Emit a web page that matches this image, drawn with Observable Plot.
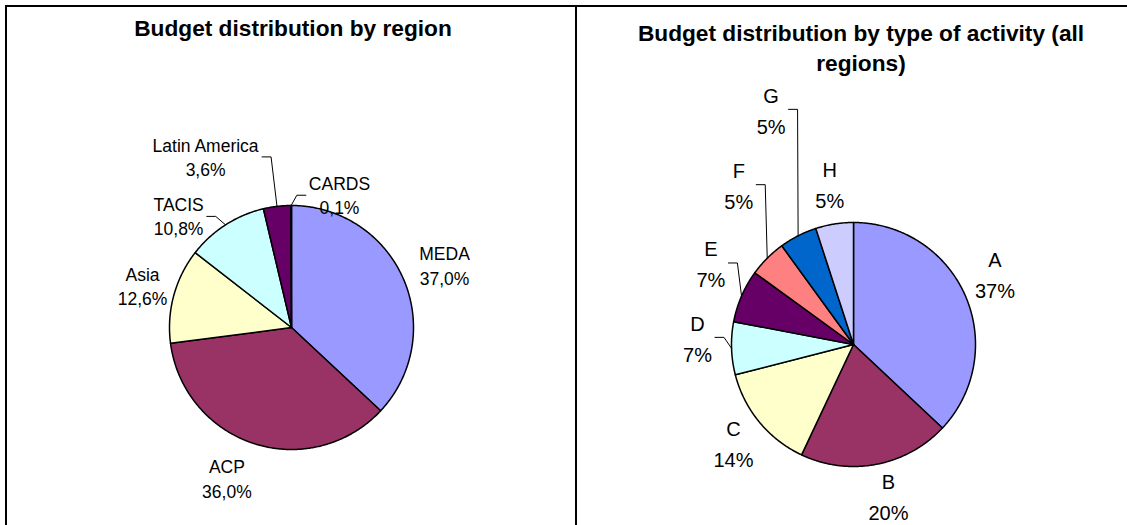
<!DOCTYPE html>
<html><head><meta charset="utf-8">
<script src="https://cdn.jsdelivr.net/npm/d3@7"></script>
<script src="https://cdn.jsdelivr.net/npm/@observablehq/plot@0.6"></script>
<style>
html,body{margin:0;padding:0;background:#fff;}
body{width:1127px;height:525px;overflow:hidden;position:relative;font-family:"Liberation Sans",Arial,sans-serif;}
.panel{position:absolute;top:5px;height:600px;border-top:2px solid #000;}
#p1{left:5px;width:568px;border-left:2px solid #000;border-right:2px solid #000;}
#p2{left:577px;width:568px;border-right:2px solid #000;}
.title{position:absolute;font-weight:bold;font-size:22.7px;line-height:30px;text-align:center;color:#000;}
#t1{left:0;width:572px;top:6px;}
#t2{left:44px;width:480px;top:11px;}
.chart{position:absolute;left:0;top:0;}
</style></head>
<body>
<div class="panel" id="p1"><div class="chart" id="c1"></div><div class="title" id="t1"></div></div>
<div class="panel" id="p2"><div class="chart" id="c2"></div><div class="title" id="t2"></div></div>
<script>
// ---- data ----
const regionNames = ["MEDA", "ACP", "Asia", "TACIS", "Latin America", "CARDS"];
const regionShares = [37.0, 36.0, 12.6, 10.8, 3.6, 0.1];
const activityNames = ["A", "B", "C", "D", "E", "F", "G", "H"];
const activityShares = [37, 20, 14, 7, 7, 5, 5, 5];
const palette = ["#9999FF", "#993366", "#FFFFCC", "#CCFFFF", "#660066", "#FF8080", "#0066CC", "#CCCCFF"];
const titleRegion = "Budget distribution by region";
const titleActivity = "Budget distribution by type of activity (all regions)";

// ---- label layout (angle clockwise from 12 o'clock, distance in radii) ----
const regionLabelLayout = [
  {angle: 67.7, dist: 1.356, leader: false},
  {angle: 203.3, dist: 1.339, leader: false},
  {angle: 285.9, dist: 1.27, leader: false},
  {angle: 314.8, dist: 1.304, leader: true},
  {angle: 333.4, dist: 1.573, leader: true},
  {angle: 19.8, dist: 1.161, leader: true}
];
const activityLabelLayout = [
  {angle: 64.2, dist: 1.288, leader: false},
  {angle: 167.2, dist: 1.294, leader: false},
  {angle: 229.9, dist: 1.286, leader: false},
  {angle: 271.7, dist: 1.279, leader: true},
  {angle: 299.0, dist: 1.336, leader: true},
  {angle: 323.9, dist: 1.596, leader: true},
  {angle: 340.5, dist: 2.023, leader: true},
  {angle: 351.5, dist: 1.315, leader: false}
];

document.getElementById("t1").textContent = titleRegion;
document.getElementById("t2").textContent = titleActivity;

const FONT = '"Liberation Sans", Arial, sans-serif';
const ctx = document.createElement("canvas").getContext("2d");

function drawPie({names, shares, layout, fmt, fontSize, lineHeight, labelDy, cx, cy, r, width, height}) {
  const arcs = d3.pie().sort(null).value(d => d)(shares);
  const slices = arcs.map((a, i) => {
    const n = Math.max(2, Math.ceil((a.endAngle - a.startAngle) / (Math.PI / 360)));
    const ring = [[0, 0]];
    for (let k = 0; k <= n; k++) {
      const t = a.startAngle + (a.endAngle - a.startAngle) * k / n;
      ring.push([Math.sin(t), -Math.cos(t)]);
    }
    ring.push([0, 0]);
    return {type: "Feature", properties: {name: names[i]}, geometry: {type: "Polygon", coordinates: [ring]}};
  });
  ctx.font = `${fontSize}px ${FONT}`;
  const labels = [];
  const leaders = [];
  arcs.forEach((a, i) => {
    const L = layout[i];
    const t = L.angle * Math.PI / 180;
    const x = L.dist * Math.sin(t), y = -L.dist * Math.cos(t) + labelDy / r;
    const text = names[i] + "\n" + fmt(shares[i]);
    labels.push({x, y, text});
    if (L.leader) {
      const mid = (a.startAngle + a.endAngle) / 2;
      const ex = Math.sin(mid), ey = -Math.cos(mid);
      const w = Math.max(...text.split("\n").map(s => ctx.measureText(s).width));
      const side = x < ex ? 1 : -1;
      const ax = x + side * (w / 2 + 3) / r;
      const tx = ax + side * 9 / r;
      const ly = y + 1 / r;
      leaders.push({type: "Feature", properties: {}, geometry: {type: "LineString", coordinates: [[ax, ly], [tx, ly], [ex, ey]]}});
    }
  });
  return Plot.plot({
    width, height, margin: 0,
    projection: d3.geoIdentity().scale(r).translate([cx, cy]),
    color: {domain: names, range: palette.slice(0, names.length)},
    style: {fontFamily: FONT, background: "transparent", overflow: "visible"},
    marks: [
      Plot.geo(slices, {fill: d => d.properties.name, stroke: "#000", strokeWidth: 1.5, strokeLinejoin: "round"}),
      Plot.geo(leaders, {fill: "none", stroke: "#000", strokeWidth: 1}),
      Plot.text(labels, {x: "x", y: "y", text: "text", fontSize, lineHeight, fill: "#000"})
    ]
  });
}

const fmtRegion = v => v.toFixed(1).replace(".", ",") + "%";
const fmtActivity = v => Math.round(v) + "%";

document.getElementById("c1").append(drawPie({
  names: regionNames, shares: regionShares, layout: regionLabelLayout, fmt: fmtRegion,
  fontSize: 17.5, lineHeight: 1.4, labelDy: 0, cx: 284, cy: 320, r: 122, width: 568, height: 518
}));
document.getElementById("c2").append(drawPie({
  names: activityNames, shares: activityShares, layout: activityLabelLayout, fmt: fmtActivity,
  fontSize: 20, lineHeight: 1.55, labelDy: -3.5, cx: 276, cy: 337, r: 122, width: 568, height: 518
}));
</script>
</body></html>
